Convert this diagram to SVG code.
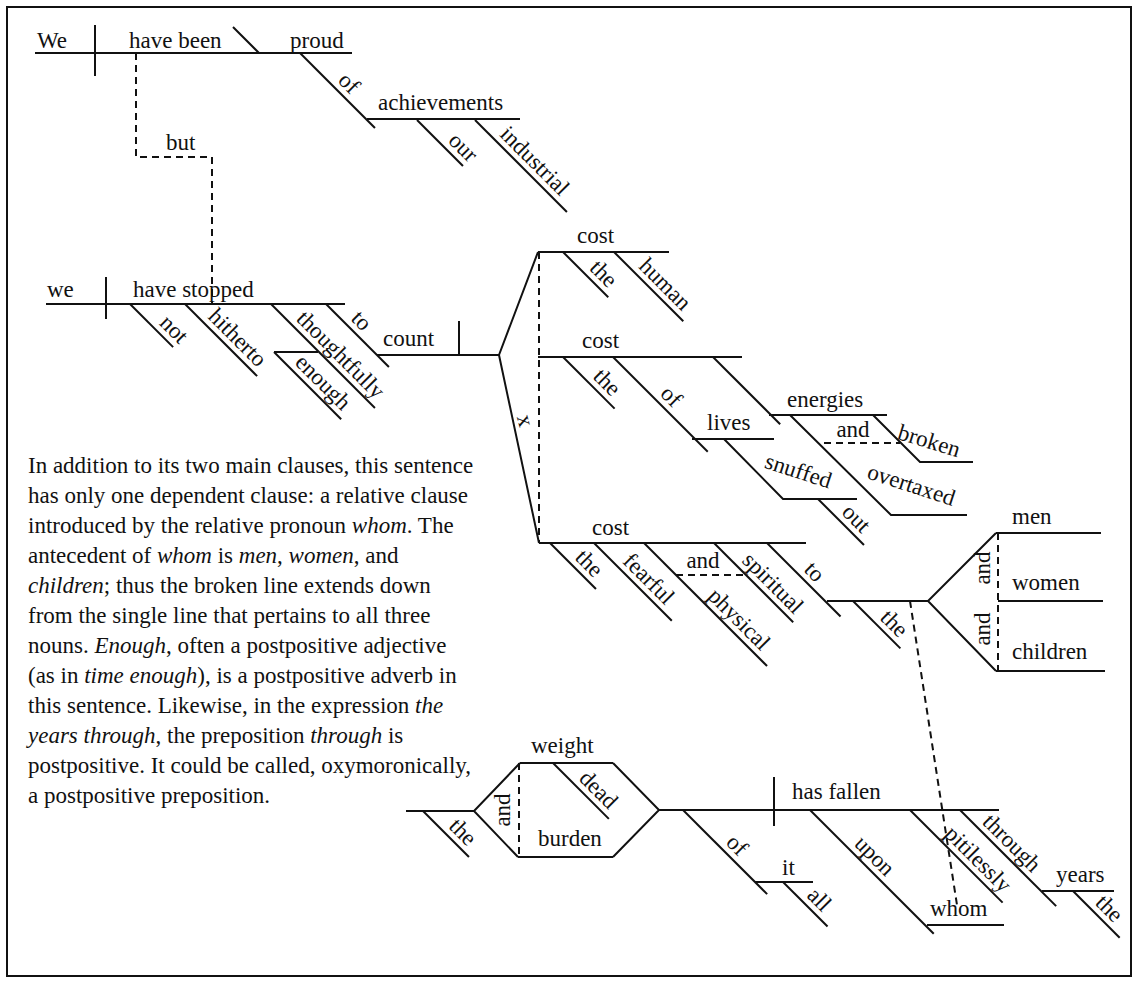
<svg xmlns="http://www.w3.org/2000/svg" width="1139" height="985" viewBox="0 0 1139 985" font-family="Liberation Serif, Times New Roman, serif">
<style>
text{font-family:Liberation Serif,Times New Roman,serif;font-size:23px;fill:#111}
.l{stroke:#111;stroke-width:2;fill:none}
.d{stroke:#111;stroke-width:2;fill:none;stroke-dasharray:7,5}
.m{text-anchor:middle}
.i{font-style:italic}
</style>
<rect x="0" y="0" width="1139" height="985" fill="#fff"/>
<rect x="7" y="7" width="1124" height="969" class="l"/>

<g id="connectors">
<path class="d" d="M136,53 V157 H212 V304"/>
<text x="166" y="150">but</text>
<path class="l" d="M538,252 L499,355 L539,543"/>
<path class="d" d="M539,252 V543"/>
<text class="m" transform="translate(524,421) rotate(75)" x="0" y="6">x</text>
<path class="l" d="M996,533 L928,601 L996,671"/>
<path class="d" d="M998,533 V671"/>
<text class="m" transform="translate(990,568) rotate(-90)">and</text>
<text class="m" transform="translate(990,629) rotate(-90)">and</text>
<path class="d" d="M910,601 L957,905"/>
<path class="l" d="M520,763 L474,811 L518,857"/>
<path class="d" d="M519,763 V857"/>
<text class="m" transform="translate(510,810) rotate(-90)">and</text>
<path class="l" d="M613,763 L659,810 L613,857"/>
<path class="d" d="M824,443 H900"/>
<text class="m" x="853" y="437">and</text>
<path class="d" d="M676,575 H744"/>
<text class="m" x="703" y="568">and</text>
</g>

<g id="clause1">
<path class="l" d="M35,53 H352 M95,25 V76 M233,27 L259,53"/>
<text x="37" y="48">We</text>
<text x="129" y="48">have been</text>
<text x="290" y="48">proud</text>
</g>
<g id="of1" transform="translate(300,53) rotate(45)"><path class="l" d="M0,0 H106"/><text class="m" x="56" y="-6">of</text></g>
<g id="achievements"><path class="l" d="M367,119 H520"/><text x="378" y="110">achievements</text></g>
<g id="our" transform="translate(417,120) rotate(45)"><path class="l" d="M0,0 H65"/><text class="m" x="52" y="-6">our</text></g>
<g id="industrial" transform="translate(475,120) rotate(45)"><path class="l" d="M0,0 H130"/><text class="m" x="71" y="-6">industrial</text></g>

<g id="clause2">
<path class="l" d="M46,304 H345 M106,277 V319"/>
<text x="47" y="297">we</text>
<text x="133" y="297">have stopped</text>
</g>
<g id="not" transform="translate(130,304) rotate(45)"><path class="l" d="M0,0 H61"/><text class="m" x="49" y="-6">not</text></g>
<g id="hitherto" transform="translate(185,304) rotate(45)"><path class="l" d="M0,0 H102"/><text class="m" x="61" y="-6">hitherto</text></g>
<g id="thoughtfully" transform="translate(271,304) rotate(45)"><path class="l" d="M0,0 H147"/><text class="m" x="85" y="-6">thoughtfully</text></g>
<g id="enough"><path class="l" d="M274,352 H318"/><g transform="translate(274,352) rotate(45)"><path class="l" d="M0,0 H95"/><text class="m" x="56" y="-6">enough</text></g></g>
<g id="to1" transform="translate(326,304) rotate(45)"><path class="l" d="M0,0 H89"/><text class="m" x="37" y="-6">to</text></g>
<g id="count"><path class="l" d="M377,355 H499 M459,321 V355"/><text x="383" y="346">count</text></g>

<g id="cost1"><path class="l" d="M538,252 H669"/><text x="577" y="243">cost</text></g>
<g id="the1" transform="translate(563,252) rotate(45)"><path class="l" d="M0,0 H64"/><text class="m" x="44" y="-6">the</text></g>
<g id="human" transform="translate(614,252) rotate(45)"><path class="l" d="M0,0 H98"/><text class="m" x="59" y="-6">human</text></g>

<g id="cost2"><path class="l" d="M538,357 H742"/><text x="582" y="348">cost</text></g>
<g id="the2" transform="translate(563,357) rotate(45)"><path class="l" d="M0,0 H73"/><text class="m" x="49" y="-6">the</text></g>
<g id="of2" transform="translate(613,357) rotate(45)"><path class="l" d="M0,0 H134"/><text class="m" x="69" y="-6">of</text></g>
<g id="prep2" transform="translate(713,357) rotate(45)"><path class="l" d="M0,0 H95"/></g>
<g id="lives"><path class="l" d="M692,439 H774"/><text x="707" y="430">lives</text></g>
<g id="snuffed"><path class="l" d="M724,439 L783,499 H857"/><text class="m" transform="translate(796,478) rotate(18)">snuffed</text></g>
<g id="out" transform="translate(818,499) rotate(45)"><path class="l" d="M0,0 H65"/><text class="m" x="41" y="-6">out</text></g>
<g id="energies"><path class="l" d="M769,415 H887"/><text x="787" y="407">energies</text></g>
<g id="overtaxed"><path class="l" d="M790,415 L891,515 H967"/><text class="m" transform="translate(909,492) rotate(18)">overtaxed</text></g>
<g id="broken"><path class="l" d="M873,415 L920,462 H973"/><text class="m" transform="translate(927,448) rotate(17)">broken</text></g>

<g id="cost3"><path class="l" d="M539,543 H806"/><text x="592" y="535">cost</text></g>
<g id="the3" transform="translate(550,543) rotate(45)"><path class="l" d="M0,0 H65"/><text class="m" x="42" y="-6">the</text></g>
<g id="fearful" transform="translate(594,543) rotate(45)"><path class="l" d="M0,0 H110"/><text class="m" x="64" y="-6">fearful</text></g>
<g id="physical" transform="translate(644,543) rotate(45)"><path class="l" d="M0,0 H174"/><text class="m" x="121" y="-6">physical</text></g>
<g id="spiritual" transform="translate(714,543) rotate(45)"><path class="l" d="M0,0 H112"/><text class="m" x="70" y="-6">spiritual</text></g>
<g id="to2" transform="translate(767,543) rotate(45)"><path class="l" d="M0,0 H104"/><text class="m" x="54" y="-6">to</text></g>
<g id="obj-to"><path class="l" d="M827,601 H928"/></g>
<g id="the4" transform="translate(853,601) rotate(45)"><path class="l" d="M0,0 H67"/><text class="m" x="45" y="-6">the</text></g>
<g id="men"><path class="l" d="M996,533 H1101"/><text x="1012" y="524">men</text></g>
<g id="women"><path class="l" d="M998,601 H1103"/><text x="1012" y="590">women</text></g>
<g id="children"><path class="l" d="M996,671 H1105"/><text x="1012" y="659">children</text></g>

<g id="subj3"><path class="l" d="M406,811 H474"/></g>
<g id="the5" transform="translate(423,811) rotate(45)"><path class="l" d="M0,0 H65"/><text class="m" x="43" y="-6">the</text></g>
<g id="weight"><path class="l" d="M520,763 H613"/><text x="531" y="753">weight</text></g>
<g id="dead" transform="translate(553,763) rotate(45)"><path class="l" d="M0,0 H79"/><text class="m" x="51" y="-6">dead</text></g>
<g id="burden"><path class="l" d="M518,857 H613"/><text x="538" y="846">burden</text></g>
<g id="hasfallen"><path class="l" d="M659,810 H999 M774,777 V826"/><text x="792" y="799">has fallen</text></g>
<g id="of3" transform="translate(683,810) rotate(45)"><path class="l" d="M0,0 H119"/><text class="m" x="63" y="-6">of</text></g>
<g id="it"><path class="l" d="M755,882 H813"/><text x="782" y="875">it</text></g>
<g id="all" transform="translate(783,882) rotate(45)"><path class="l" d="M0,0 H63"/><text class="m" x="38" y="-6">all</text></g>
<g id="upon" transform="translate(810,810) rotate(45)"><path class="l" d="M0,0 H175"/><text class="m" x="78" y="-6">upon</text></g>
<g id="whom"><path class="l" d="M927,925 H1004"/><text x="930" y="916">whom</text></g>
<g id="pitilessly" transform="translate(910,810) rotate(45)"><path class="l" d="M0,0 H131"/><text class="m" x="83" y="-6">pitilessly</text></g>
<g id="through" transform="translate(960,810) rotate(45)"><path class="l" d="M0,0 H136"/><text class="m" x="60" y="-6">through</text></g>
<g id="years"><path class="l" d="M1042,891 H1114"/><text x="1056" y="882">years</text></g>
<g id="the6" transform="translate(1073,891) rotate(45)"><path class="l" d="M0,0 H66"/><text class="m" x="38" y="-6">the</text></g>

<g id="note">
<text x="28" y="473">In addition to its two main clauses, this sentence</text>
<text x="28" y="503">has only one dependent clause: a relative clause</text>
<text x="28" y="533">introduced by the relative pronoun <tspan class="i">whom</tspan>. The</text>
<text x="28" y="563">antecedent of <tspan class="i">whom</tspan> is <tspan class="i">men</tspan>, <tspan class="i">women</tspan>, and</text>
<text x="28" y="593"><tspan class="i">children</tspan>; thus the broken line extends down</text>
<text x="28" y="623">from the single line that pertains to all three</text>
<text x="28" y="653">nouns. <tspan class="i">Enough</tspan>, often a postpositive adjective</text>
<text x="28" y="683">(as in <tspan class="i">time enough</tspan>), is a postpositive adverb in</text>
<text x="28" y="713">this sentence. Likewise, in the expression <tspan class="i">the</tspan></text>
<text x="28" y="743"><tspan class="i">years through</tspan>, the preposition <tspan class="i">through</tspan> is</text>
<text x="28" y="773">postpositive. It could be called, oxymoronically,</text>
<text x="28" y="803">a postpositive preposition.</text>
</g>
</svg>
